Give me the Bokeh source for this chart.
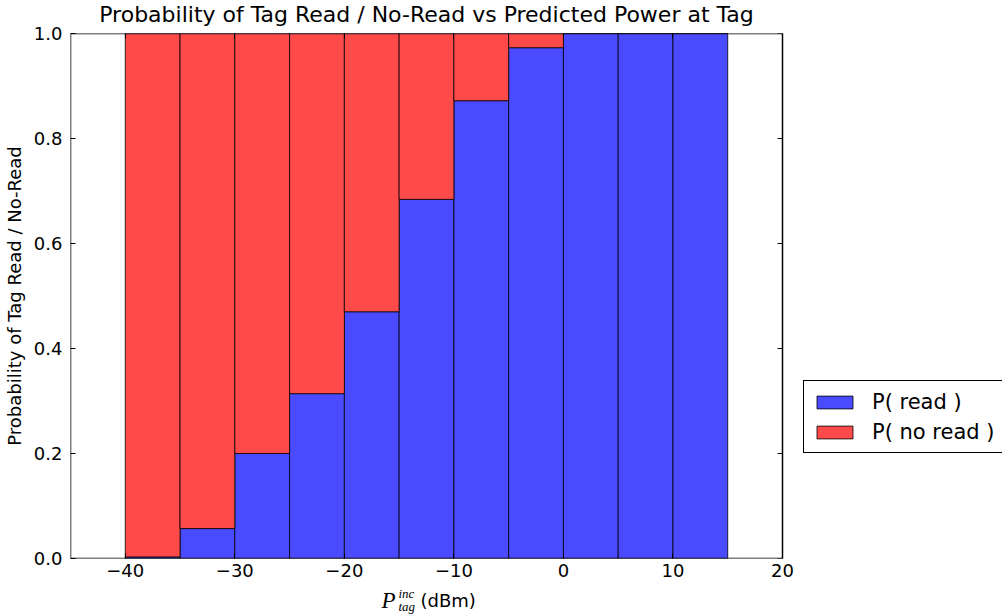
from bokeh.plotting import figure
from bokeh.models import (ColumnDataSource, LinearAxis, Legend, LegendItem, Label,
                          FixedTicker, Range1d, BoxAnnotation)
from bokeh.embed import file_html
from bokeh.resources import INLINE

# ---- data ----
bin_left = [-40, -35, -30, -25, -20, -15, -10, -5, 0, 5, 10]
p_read = [0.003, 0.057, 0.200, 0.314, 0.470, 0.684, 0.872, 0.973, 1.0, 1.0, 1.0]
p_no_read = [0.997, 0.943, 0.800, 0.686, 0.530, 0.316, 0.128, 0.027, 0.0, 0.0, 0.0]
bin_width = 5
x_min, x_max = -45, 20
y_min, y_max = 0.0, 1.0
x_ticks = [-40, -30, -20, -10, 0, 10, 20]
x_tick_labels = ["\u221240", "\u221230", "\u221220", "\u221210", "0", "10", "20"]
y_ticks = [0.0, 0.2, 0.4, 0.6, 0.8, 1.0]
y_tick_labels = ["0.0", "0.2", "0.4", "0.6", "0.8", "1.0"]
title_text = "Probability of Tag Read / No-Read vs Predicted Power at Tag"
y_label = "Probability of Tag Read / No-Read"
legend_labels = ["P( read )", "P( no read )"]

FONT = "DejaVu Sans"
MATH_FONT = "Liberation Serif"
BLUE = "#4a4aff"
RED = "#ff4a4a"

# axes box is 712 px wide; the frame is widened to the right so that the
# legend (outside the axes box, as in the reference) is not clipped
AXES_PX = 712
AXES_PY = 525
FRAME_PX = 932
x_view_end = x_min + (x_max - x_min) * FRAME_PX / AXES_PX
x_center = (x_min + x_max) / 2

src = ColumnDataSource(dict(
    x=[b + bin_width / 2 for b in bin_left],
    read=p_read,
    noread=p_no_read,
))

p = figure(frame_width=FRAME_PX, frame_height=AXES_PY, output_backend="svg",
           toolbar_location=None, title=None,
           x_range=Range1d(x_min, x_view_end), y_range=Range1d(y_min, y_max),
           min_border_left=62, min_border_right=0, min_border_top=33,
           min_border_bottom=55, x_axis_location=None, y_axis_location=None)
p.grid.visible = False
p.outline_line_color = None
p.background_fill_color = "white"
p.border_fill_color = "white"

rs = p.vbar_stack(["read", "noread"], x="x", width=bin_width, source=src,
                  fill_color=[BLUE, RED], line_color="black", line_alpha=0.8,
                  line_width=1)

# axes box
p.add_layout(BoxAnnotation(left=x_min, right=x_max, bottom=y_min, top=y_max,
                           fill_alpha=0, line_color="black", line_alpha=1.0,
                           line_width=1.5))

def mk_axis(ticks, labels, show):
    ax = LinearAxis(ticker=FixedTicker(ticks=ticks))
    ax.major_label_overrides = {t: l for t, l in zip(ticks, labels)}
    ax.axis_line_color = None
    ax.major_tick_in = 5
    ax.major_tick_out = 0
    ax.major_tick_line_color = "black"
    ax.minor_tick_line_color = None
    ax.major_label_text_font = FONT
    if show:
        ax.major_label_text_font_size = "18px"
        ax.major_label_text_color = "black"
        ax.major_label_standoff = 5
    else:
        ax.major_label_text_font_size = "0px"
        ax.major_label_text_alpha = 0
        ax.major_label_standoff = 0
    return ax

xb = mk_axis(x_ticks, x_tick_labels, True)
xt = mk_axis(x_ticks, x_tick_labels, False)
yl = mk_axis(y_ticks, y_tick_labels, True)
yr = mk_axis(y_ticks, y_tick_labels, False)
yr.fixed_location = x_max
yl.major_label_standoff = 8
yl.axis_label = y_label
yl.axis_label_text_font = FONT
yl.axis_label_text_font_size = "18px"
yl.axis_label_text_font_style = "normal"
yl.axis_label_text_color = "black"
yl.axis_label_standoff = 6
p.add_layout(xb, "below")
p.add_layout(xt, "above")
p.add_layout(yl, "left")
p.add_layout(yr, "right")

# title, centred over the axes box (not over the widened frame)
p.add_layout(Label(x=x_center, y=y_max + 19 / AXES_PY, text=title_text,
                   text_font=FONT, text_font_size="22px", text_color="black",
                   text_align="center", text_baseline="middle"), "above")

# x-axis label  P_tag^inc (dBm)  (mathtext-like, built from text pieces)
for (xx, yy, txt, font, size, style) in [
        (-16.6, -0.080, "P", MATH_FONT, "23px", "italic"),
        (-15.06, -0.066, "inc", MATH_FONT, "13px", "italic"),
        (-15.06, -0.092, "tag", MATH_FONT, "13px", "italic"),
        (-13.05, -0.080, "(dBm)", FONT, "18px", "normal")]:
    p.add_layout(Label(x=xx, y=yy, text=txt, text_font=font, text_font_size=size,
                       text_font_style=style, text_color="black",
                       text_baseline="middle", text_align="left"), "below")

legend = Legend(items=[LegendItem(label=legend_labels[0], renderers=[rs[0]]),
                       LegendItem(label=legend_labels[1], renderers=[rs[1]])],
                location=(733, 105))
legend.border_line_color = "black"
legend.border_line_alpha = 1.0
legend.border_line_width = 1
legend.background_fill_color = "white"
legend.background_fill_alpha = 1.0
legend.label_text_font = FONT
legend.label_text_font_size = "21px"
legend.label_text_color = "black"
legend.label_width = 140
legend.glyph_width = 45
legend.glyph_height = 16
legend.label_standoff = 15
legend.padding = 8
legend.spacing = 5
legend.label_height = 25
legend.margin = 0
p.add_layout(legend, "center")

open("out.html", "w").write(file_html(p, INLINE))
